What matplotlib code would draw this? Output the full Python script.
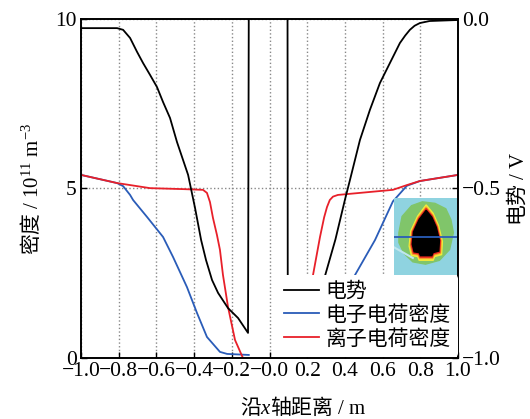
import matplotlib.pyplot as plt
import numpy as np
from matplotlib.patches import Polygon, Rectangle

plt.rcParams['font.family'] = ['Liberation Serif', 'Noto Sans CJK SC']
plt.rcParams['mathtext.fontset'] = 'custom'
plt.rcParams['mathtext.rm'] = 'Liberation Serif'
plt.rcParams['mathtext.it'] = 'Liberation Serif:italic'
plt.rcParams['font.size'] = 15

# potential (V), right axis; the spike inside the object runs off the top
x_pot = [-1.0, -0.809, -0.777, -0.740, -0.703, -0.671, -0.634, -0.597, -0.565,
         -0.528, -0.491, -0.432, -0.395, -0.363, -0.337, -0.305, -0.273, -0.220,
         -0.167, -0.114, -0.108,
         0.095, 0.097, 0.15, 0.20, 0.25, 0.296, 0.35, 0.40, 0.427, 0.48, 0.533,
         0.586, 0.639, 0.692, 0.72, 0.745, 0.77, 0.798, 0.85, 1.0]
v_pot = [-0.027, -0.027, -0.032, -0.056, -0.097, -0.130, -0.165, -0.201, -0.245,
         -0.292, -0.363, -0.460, -0.558, -0.652, -0.711, -0.770, -0.808, -0.853,
         -0.882, -0.926, 0.5,
         0.5, -0.93, -0.91, -0.88, -0.83, -0.755, -0.65, -0.534, -0.475, -0.357,
         -0.268, -0.189, -0.130, -0.071, -0.049, -0.032, -0.020, -0.012, -0.006,
         -0.003]

# electron charge density (1e11 m^-3)
x_ele = [-1.0, -0.809, -0.777, -0.74, -0.724, -0.65, -0.565, -0.512, -0.438,
         -0.385, -0.332, -0.263, -0.225, -0.11, np.nan,
         0.11, 0.22, 0.28, 0.35, 0.40, 0.454, 0.56, 0.655, 0.729, 0.798, 1.0]
n_ele = [5.40, 5.16, 5.07, 4.81, 4.66, 4.16, 3.57, 2.98, 2.09,
         1.33, 0.62, 0.18, 0.12, 0.09, np.nan,
         0.09, 0.15, 0.5, 1.3, 1.9, 2.45, 3.48, 4.62, 5.08, 5.22, 5.40]

# ion charge density (1e11 m^-3)
x_ion = [-1.0, -0.809, -0.634, -0.45, -0.353, -0.332, -0.316, -0.300, -0.279,
         -0.263, -0.247, -0.22, -0.183, -0.141, np.nan,
         0.146, 0.17, 0.20, 0.231, 0.268, 0.290, 0.305, 0.320, 0.337, 0.363,
         0.655, 0.729, 0.798, 1.0]
n_ion = [5.40, 5.16, 5.01, 4.98, 4.96, 4.87, 4.60, 4.13, 3.63,
         3.19, 2.45, 1.50, 0.53, 0.0, np.nan,
         0.0, 0.6, 1.45, 2.45, 3.57, 4.15, 4.45, 4.66, 4.76, 4.81,
         4.96, 5.10, 5.22, 5.40]

labels = ['电势', '电子电荷密度', '离子电荷密度']

fig = plt.figure(figsize=(5.3, 4.19), dpi=100)
ax = fig.add_axes([0.153, 0.1456, 0.711, 0.8091])
ax2 = ax.twinx()

l2, = ax.plot(x_ele, n_ele, color='#2a5cb8', lw=1.3)
l3, = ax.plot(x_ion, n_ion, color='#e8202a', lw=1.3)
l1, = ax2.plot(x_pot, v_pot, color='black', lw=1.3)

ax.set_xlim(-1, 1)
ax.set_ylim(0, 10)
ax2.set_ylim(-1, 0)
xt = np.arange(-1.0, 1.01, 0.2)
ax.set_xticks(xt)
ax.set_xticklabels([f'{t:.1f}'.replace('-', '\u2212') for t in xt])
ax.set_yticks([0, 5, 10])
ax2.set_yticks([0.0, -0.5, -1.0])
ax2.set_yticklabels(['0.0', '\u22120.5', '\u22121.0'])

ax.grid(True, linestyle=':', color='#888888', lw=1)
for a in (ax, ax2):
    a.tick_params(direction='in', length=4, width=1, labelsize=15.5)
    for s in a.spines.values():
        s.set_linewidth(1.2)
ax.tick_params(axis='x', pad=3)
ax.tick_params(axis='y', pad=3)
ax2.tick_params(axis='y', pad=3)

ax.set_xlabel('沿$x$轴距离$\\mathrm{\\ /\\ m}$', family='Noto Sans CJK SC')
ax.xaxis.set_label_coords(0.59, -0.112)
ax.set_ylabel('密度$\\mathrm{\\ /\\ 10^{11}\\ m^{-3}}$', family='Noto Sans CJK SC', labelpad=9)
ax2.set_ylabel('电势$\\mathrm{\\ /\\ V}$', family='Noto Sans CJK SC', labelpad=3)

# small picture of the probe field in the corner
ins = ax2.inset_axes([0.83, 0.245, 0.168, 0.227])
ins.set_xlim(0, 1)
ins.set_ylim(0, 1)
ins.axis('off')
ins.add_patch(Rectangle((0, 0), 1, 1, color='#8fd3e0'))
green = [(0.08, 0.55), (0.13, 0.76), (0.28, 0.90), (0.45, 0.95), (0.65, 0.93),
         (0.82, 0.86), (0.90, 0.72), (0.94, 0.55), (0.88, 0.33), (0.72, 0.19),
         (0.50, 0.14), (0.30, 0.17), (0.16, 0.28), (0.08, 0.42)]
ins.add_patch(Polygon(green, color='#80c56a'))
ins.plot([0.0, 0.3], [0.36, 0.22], color='#bfe6ee', lw=1.5)
core = np.array([(0.51, 0.84), (0.40, 0.72), (0.31, 0.56), (0.29, 0.40), (0.32, 0.30),
                 (0.40, 0.29), (0.42, 0.25), (0.60, 0.25), (0.62, 0.29), (0.71, 0.31),
                 (0.72, 0.45), (0.67, 0.62), (0.60, 0.75)])
c0 = np.array([0.51, 0.52])
for sc, col in [(1.22, '#f2ea3a'), (1.13, '#f59a2c'), (1.07, '#e8261e'), (1.0, 'black')]:
    ins.add_patch(Polygon(c0 + (core - c0) * sc, color=col))
ins.plot([0, 1], [0.49, 0.49], color='#2a5cb8', lw=1.3)

leg = ax2.legend([l1, l2, l3], labels, loc='lower right', bbox_to_anchor=(1.0, 0.003),
                 frameon=True, facecolor='white', edgecolor='none', framealpha=1,
                 fontsize=15, handlelength=1.7, labelspacing=0.2, borderpad=0.35,
                 handletextpad=0.3, borderaxespad=0.0)
leg.set_zorder(10)

fig.savefig('out.png', dpi=100)
